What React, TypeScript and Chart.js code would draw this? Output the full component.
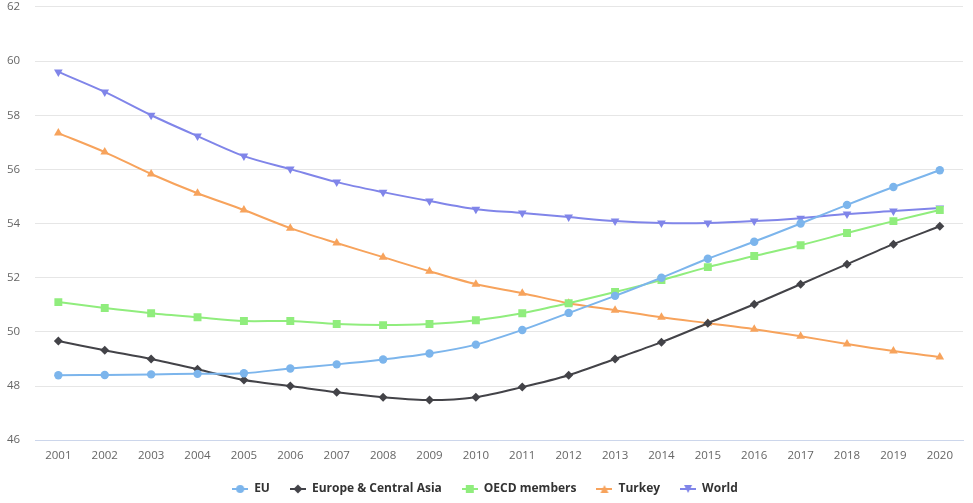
import React, { useEffect, useRef } from "react";
import { Chart, registerables } from "chart.js";

Chart.register(...registerables);

const years = ["2001","2002","2003","2004","2005","2006","2007","2008","2009","2010","2011","2012","2013","2014","2015","2016","2017","2018","2019","2020"];

const euValues = [48.40,48.41,48.43,48.45,48.47,48.65,48.80,48.98,49.20,49.53,50.07,50.70,51.33,52.00,52.70,53.33,54.00,54.69,55.35,55.97];
const ecaValues = [49.66,49.32,49.00,48.62,48.22,48.00,47.77,47.59,47.48,47.59,47.96,48.40,49.00,49.62,50.32,51.02,51.76,52.50,53.24,53.90];
const oecdValues = [51.10,50.88,50.69,50.54,50.40,50.40,50.29,50.25,50.29,50.43,50.69,51.06,51.47,51.91,52.39,52.80,53.20,53.65,54.09,54.50];
const turkeyValues = [57.34,56.64,55.83,55.12,54.50,53.83,53.28,52.76,52.24,51.76,51.43,51.06,50.80,50.54,50.32,50.10,49.84,49.55,49.29,49.07];
const worldValues = [59.60,58.86,58.00,57.23,56.49,56.01,55.53,55.16,54.83,54.53,54.39,54.24,54.09,54.02,54.02,54.09,54.20,54.35,54.46,54.57];

const seriesNames = ["EU", "Europe & Central Asia", "OECD members", "Turkey", "World"];
const seriesColors = ["#7cb5ec", "#434348", "#90ed7d", "#f7a35c", "#8085e9"];
const seriesStyles = ["circle", "rectRot", "rect", "triangle", "triangle"];
const seriesRadii = [4.2, 4.5, 5.6, 5, 5];
const seriesRotations = [0, 0, 0, 0, 180];
const seriesData = [euValues, ecaValues, oecdValues, turkeyValues, worldValues];

function legendIcon(i: number): HTMLCanvasElement {
  const c = document.createElement("canvas");
  c.width = 16;
  c.height = 12;
  const ctx = c.getContext("2d")!;
  ctx.strokeStyle = seriesColors[i];
  ctx.lineWidth = 2;
  ctx.beginPath();
  ctx.moveTo(0, 6);
  ctx.lineTo(16, 6);
  ctx.stroke();
  ctx.fillStyle = seriesColors[i];
  const x = 8, y = 6;
  const s = seriesStyles[i];
  ctx.beginPath();
  if (s === "circle") {
    ctx.arc(x, y, 4, 0, Math.PI * 2);
  } else if (s === "rectRot") {
    ctx.moveTo(x, y - 4.5); ctx.lineTo(x + 4.5, y); ctx.lineTo(x, y + 4.5); ctx.lineTo(x - 4.5, y);
  } else if (s === "rect") {
    ctx.rect(x - 4, y - 4, 8, 8);
  } else if (seriesRotations[i] === 0) {
    ctx.moveTo(x, y - 4); ctx.lineTo(x + 4, y + 4); ctx.lineTo(x - 4, y + 4);
  } else {
    ctx.moveTo(x - 4, y - 4); ctx.lineTo(x + 4, y - 4); ctx.lineTo(x, y + 4);
  }
  ctx.closePath();
  ctx.fill();
  return c;
}

export default function App() {
  const ref = useRef<HTMLCanvasElement | null>(null);
  useEffect(() => {
    if (!ref.current) return;
    const icons = seriesNames.map((_, i) => legendIcon(i));
    const chart = new Chart(ref.current, {
      type: "line",
      data: {
        labels: years,
        datasets: seriesNames.map((name, i) => ({
          label: name,
          data: seriesData[i],
          borderColor: seriesColors[i],
          backgroundColor: seriesColors[i],
          borderWidth: 2,
          tension: 0.3,
          pointStyle: seriesStyles[i] as any,
          pointRadius: seriesRadii[i],
          pointRotation: seriesRotations[i],
          pointBorderWidth: 0,
          pointHoverRadius: seriesRadii[i],
        })),
      },
      options: {
        animation: false,
        responsive: true,
        maintainAspectRatio: false,
        layout: { padding: { left: 7, right: 10, top: 0, bottom: -2 } },
        plugins: {
          tooltip: { enabled: false },
          legend: {
            position: "bottom",
            labels: {
              usePointStyle: true,
              pointStyleWidth: 16,
              padding: 20,
              color: "#333333",
              font: { family: "'Open Sans'", size: 12, weight: "bold" },
              generateLabels: (ch: any) =>
                ch.data.datasets.map((ds: any, i: number) => ({
                  text: ds.label,
                  fillStyle: seriesColors[i],
                  strokeStyle: seriesColors[i],
                  lineWidth: 0,
                  pointStyle: icons[i],
                  hidden: false,
                  datasetIndex: i,
                  fontColor: "#333333",
                })),
            },
          },
        },
        scales: {
          x: {
            offset: true,
            grid: { display: false, drawTicks: false },
            border: { display: true, color: "#ccd6eb", width: 1 },
            ticks: {
              color: "#666666",
              padding: 9,
              maxRotation: 0,
              autoSkip: false,
              font: { family: "'Open Sans'", size: 11.5 },
            },
            afterFit: (scale: any) => {
              scale.height -= 9;
            },
          },
          y: {
            min: 46,
            max: 62,
            grid: { color: "#e6e6e6", lineWidth: 1, drawTicks: true, tickLength: 15, tickColor: "rgba(0,0,0,0)" },
            border: { display: false },
            ticks: {
              stepSize: 2,
              color: "#666666",
              padding: 0,
              font: { family: "'Open Sans'", size: 11.5 },
            },
          },
        },
      },
    });
    return () => chart.destroy();
  }, []);
  return (
    <div style={{ position: "fixed", left: 0, top: 0, width: 973, height: 503, background: "#fff" }}>
      <canvas ref={ref} />
    </div>
  );
}
